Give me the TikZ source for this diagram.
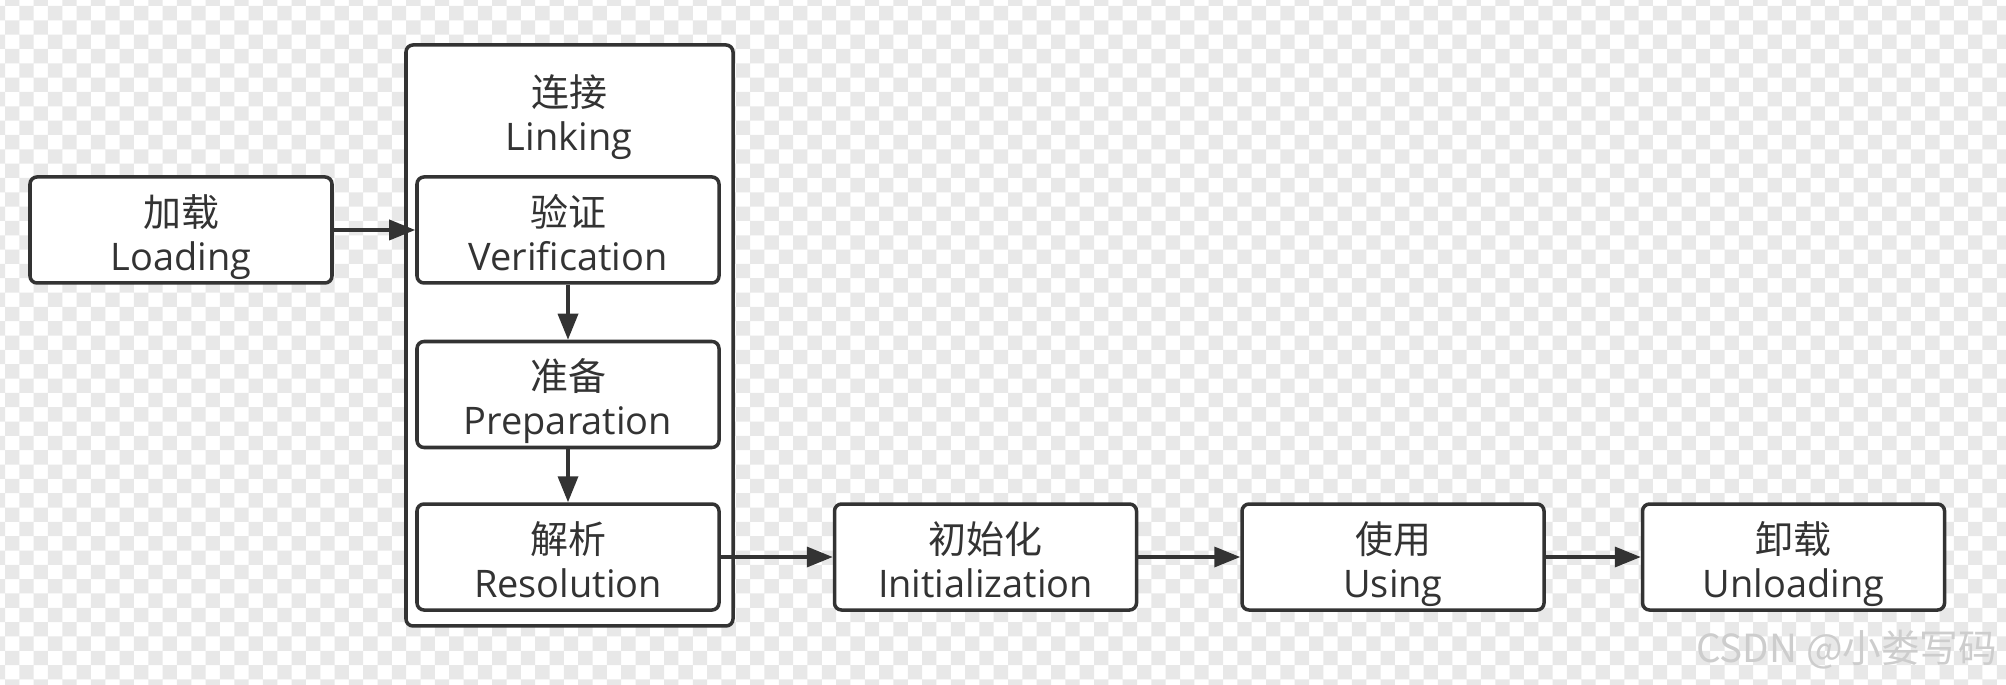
\documentclass[tikz,border=0pt]{standalone}
\usepackage{fontspec}
\setmainfont{Open Sans}
\newfontfamily\cjk{Noto Sans CJK SC}
\usetikzlibrary{arrows.meta, positioning}

\definecolor{boxline}{RGB}{51,51,51}
\definecolor{checkgray}{RGB}{232,232,232}
\definecolor{markgray}{RGB}{205,205,205}

\begin{document}
\begin{tikzpicture}[node distance=0.57cm and 1.05cm, >={Triangle[length=0.26cm, width=0.2cm]}, font=\fontsize{10.8}{12.5}\selectfont]
    \tikzstyle{stage} = [rectangle, draw=boxline, fill=white, line width=1pt, rounded corners=2pt, text=boxline, align=center, minimum width=3.02cm, minimum height=1.06cm, inner sep=2pt, text height=23pt, text depth=0pt]
    \tikzstyle{group} = [rectangle, draw=boxline, fill=white, line width=1pt, rounded corners=2pt, minimum width=3.27cm, minimum height=5.81cm]
    \tikzstyle{flow} = [->, draw=boxline, line width=1pt]

    \useasboundingbox (0,0) rectangle (20.06,6.85);

    % Checkerboard background
    \fill[white] (0,0) rectangle (20.06,6.85);
    \begin{scope}
      \clip (0,0) rectangle (20.06,6.85);
      \fill[checkgray]
        \foreach \i in {0,2,...,138} {\foreach \j in {-1,1,...,47} {(0.05+\i*0.1433, 6.79-\j*0.1433) rectangle ++(0.1433,-0.1433)}}
        \foreach \i in {-1,1,...,139} {\foreach \j in {0,2,...,46} {(0.05+\i*0.1433, 6.79-\j*0.1433) rectangle ++(0.1433,-0.1433)}};
    \end{scope}

    % Linking group
    \node [group] (linking) at (5.695,3.495) {};
    \node [text=boxline, align=center] (linking_title) at (5.69,5.68) {{\cjk 连接}\\Linking};

    % Stages
    \node [stage] (loading) at (1.81,4.55) {{\cjk 加载}\\Loading};
    \node [stage] (verify) at (5.68,4.55) {{\cjk 验证}\\Verification};
    \node [stage, below=0.55cm of verify] (prepare) {{\cjk 准备}\\Preparation};
    \node [stage, below=0.53cm of prepare] (resolve) {{\cjk 解析}\\Resolution};
    \node [stage, right=1.12cm of resolve] (init) {{\cjk 初始化}\\Initialization};
    \node [stage, right=1.02cm of init] (using) {{\cjk 使用}\\Using};
    \node [stage, right=0.95cm of using] (unload) {{\cjk 卸载}\\Unloading};

    % Watermark
    \node [anchor=base east, inner sep=0pt, text=markgray, font=\cjk\fontsize{11}{13}\selectfont] (csdn) at (19.98,0.22) {CSDN @小娄写码};

    % Connections
    \draw [flow] (loading) -- (verify);
    \draw [flow] (verify) -- (prepare);
    \draw [flow] (prepare) -- (resolve);
    \draw [flow] (resolve) -- (init);
    \draw [flow] (init) -- (using);
    \draw [flow] (using) -- (unload);
\end{tikzpicture}
\end{document}
